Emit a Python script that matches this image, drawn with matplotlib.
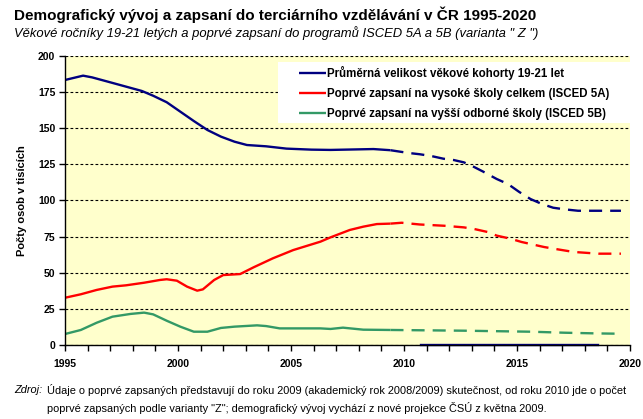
import matplotlib
matplotlib.use('Agg')
import matplotlib.pyplot as plt
from matplotlib.patches import Rectangle
import numpy as np

plt.rcParams['font.family'] = ['Liberation Sans', 'DejaVu Sans']
plt.rcParams['lines.scale_dashes'] = False

# values (thousands of persons)
years_cohort = [1995, 1995.8, 1996.2, 1997.0, 1997.7, 1998.4, 1998.9, 1999.5, 2000.1, 2000.7,
                2001.3, 2001.9, 2002.5, 2003.05, 2003.9, 2004.8, 2005.9, 2006.75, 2008.65, 2009.4,
                2010.2, 2010.7, 2011.2, 2011.75, 2012.2, 2012.65, 2013.1, 2013.5, 2014.1, 2014.6,
                2015.1, 2015.6, 2016.1, 2016.6, 2017.1, 2017.7, 2018.6, 2019.6]
cohort = [183.4, 186.4, 185.2, 181.8, 178.8, 175.8, 172.5, 168.0, 161.5, 155.0,
          148.8, 144.2, 140.7, 138.4, 137.5, 135.9, 135.2, 135.0, 135.6, 134.8,
          132.9, 132.0, 130.8, 128.9, 128.0, 126.4, 123.2, 120.0, 114.9, 111.4,
          105.9, 101.0, 97.6, 95.0, 93.9, 92.9, 92.9, 92.9]

years_5a = [1995, 1995.7, 1996.4, 1997.1, 1997.7, 1998.5, 1999.2, 1999.5, 1999.95, 2000.4,
            2000.85, 2001.1, 2001.6, 2002.0, 2002.75, 2003.35, 2004.2, 2005.1, 2006.3, 2006.75,
            2007.6, 2008.2, 2008.8, 2009.4, 2009.9, 2010.7, 2011.8, 2012.65, 2013.1, 2013.7,
            2014.1, 2014.7, 2015.2, 2015.8, 2016.2, 2016.8, 2017.5, 2018.6, 2019.6]
isced_5a = [32.7, 35.1, 38.1, 40.4, 41.3, 43.1, 45.0, 45.5, 44.5, 40.4,
            37.6, 38.5, 45.0, 48.4, 49.1, 53.8, 60.0, 65.7, 71.5, 74.5,
            79.6, 81.9, 83.7, 84.0, 84.6, 83.4, 82.5, 81.4, 80.3, 78.2,
            75.7, 73.6, 71.3, 69.2, 67.8, 66.2, 64.4, 63.2, 63.2]

years_5b = [1995, 1995.7, 1996.4, 1997.1, 1997.9, 1998.5, 1998.9, 1999.5, 2000.1, 2000.7,
            2001.3, 2001.9, 2002.5, 2003.5, 2003.9, 2004.5, 2006.3, 2006.75, 2007.3, 2008.2,
            2009.4, 2012.65, 2015.6, 2017.1, 2018.6, 2019.6]
isced_5b = [7.6, 10.4, 15.4, 19.6, 21.5, 22.4, 21.2, 16.8, 12.7, 9.2,
            9.2, 11.8, 12.7, 13.6, 13.1, 11.5, 11.5, 11.1, 12.0, 10.6,
            10.4, 9.9, 9.2, 8.5, 8.0, 7.8]

years_zero = [2010.77, 2018.6]
zero_line = [0, 0]

split_year = 2009.4  # actual data up to here, projection afterwards

labels = ['Průměrná velikost věkové kohorty 19-21 let',
          'Poprvé zapsaní na vysoké školy celkem (ISCED 5A)',
          'Poprvé zapsaní na vyšší odborné školy (ISCED 5B)']
colors = ['#000080', '#FF0000', '#339966']

W, H = 643, 419
fig = plt.figure(figsize=(W / 100, H / 100), dpi=100)
ax = fig.add_axes([65 / W, 74 / H, 565 / W, 289 / H])
ax.set_facecolor('#FFFFCC')

lw = 1.7
dash = (9.4, 5.8)
handles = []
for xs, ys, c, lab in [(years_cohort, cohort, colors[0], labels[0]),
                       (years_5a, isced_5a, colors[1], labels[1]),
                       (years_5b, isced_5b, colors[2], labels[2])]:
    xs = np.array(xs)
    ys = np.array(ys)
    solid = xs <= split_year
    proj = xs >= split_year
    h, = ax.plot(xs[solid], ys[solid], color=c, lw=lw, label=lab, solid_capstyle='butt')
    ax.plot(xs[proj], ys[proj], color=c, lw=lw, dashes=dash, dash_capstyle='butt')
    handles.append(h)

ax.plot(years_zero, zero_line, color=colors[0], lw=lw, clip_on=False)

ax.set_xlim(1995, 2020)
ax.set_ylim(0, 200)
ax.set_xticks(range(1995, 2021, 5))
ax.set_xticks(range(1995, 2021), minor=True)
ax.set_yticks(range(0, 201, 25))
ax.tick_params(axis='both', which='both', direction='out', length=4, width=1, color='black')
ax.tick_params(labelsize=7.5)
for t in ax.get_xticklabels() + ax.get_yticklabels():
    t.set_fontweight('bold')
ax.tick_params(axis='x', pad=6)
ax.tick_params(axis='y', pad=3)

ax.grid(axis='y', color='black', lw=0.8, dashes=(2, 1.6))
ax.set_axisbelow(True)
for s in ['top', 'right']:
    ax.spines[s].set_visible(False)
for s in ['left', 'bottom']:
    ax.spines[s].set_linewidth(1)
    ax.spines[s].set_zorder(5)

ax.set_ylabel('Počty osob v tisících', fontsize=8, fontweight='bold', labelpad=8)

# white legend box, like the excel one
fig.patches.append(Rectangle((278 / W, 1 - 123 / H), 359 / W, 61 / H, transform=fig.transFigure,
                             facecolor='white', edgecolor='none', zorder=3))
leg = fig.legend(handles=handles, loc='upper left', bbox_to_anchor=(299 / W, 1 - 66 / H),
                 frameon=False, prop={'size': 8.3, 'weight': 'bold'}, handlelength=2.3,
                 handletextpad=0.15, labelspacing=0.68, borderpad=0, borderaxespad=0)
leg.set_zorder(4)

fig.text(14 / W, 1 - 15 / H, 'Demografický vývoj a zapsaní do terciárního vzdělávání v ČR 1995-2020',
         fontsize=11, fontweight='bold', va='center', ha='left')
fig.text(14 / W, 1 - 33 / H, 'Věkové ročníky 19-21 letých a poprvé zapsaní do programů ISCED 5A a 5B (varianta " Z ")',
         fontsize=9.4, style='italic', va='center', ha='left')

fig.text(14 / W, 1 - 390 / H, 'Zdroj:', fontsize=7.9, style='italic', va='center', ha='left')
fig.text(47 / W, 1 - 390 / H,
         'Údaje o poprvé zapsaných představují do roku 2009 (akademický rok 2008/2009) skutečnost, od roku 2010 jde o počet',
         fontsize=7.9, va='center', ha='left')
fig.text(47 / W, 1 - 408 / H,
         'poprvé zapsaných podle varianty "Z"; demografický vývoj vychází z nové projekce ČSÚ z května 2009.',
         fontsize=7.9, va='center', ha='left')

fig.savefig('out.png', dpi=100)
